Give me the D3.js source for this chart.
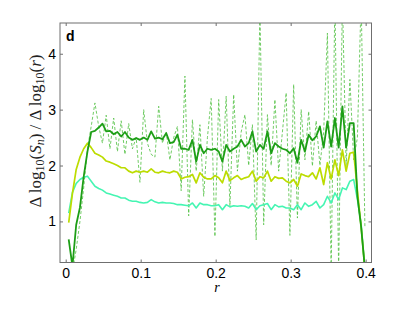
<!DOCTYPE html>
<html>
<head>
<meta charset="utf-8" />
<title>d</title>
<script src="https://d3js.org/d3.v7.min.js"></script>
<style>
  body { margin: 0; background: #ffffff; }
  svg text { font-family: "Liberation Sans", Arial, sans-serif; }
</style>
</head>
<body>
<svg id="viz" width="411" height="310"></svg>
<script>

// r values (x)
var rVals = [0.004,0.009,0.014,0.019,0.024,0.029,0.034,0.039,0.044,0.049,
  0.054,0.059,0.064,0.069,0.074,0.079,0.084,0.089,0.094,0.099,
  0.104,0.109,0.114,0.119,0.124,0.129,0.134,0.139,0.144,0.149,
  0.154,0.159,0.164,0.169,0.174,0.179,0.184,0.189,0.194,0.199,
  0.204,0.209,0.214,0.219,0.224,0.229,0.234,0.239,0.244,0.249,
  0.254,0.259,0.264,0.269,0.274,0.279,0.284,0.289,0.294,0.299,
  0.304,0.309,0.314,0.319,0.324,0.329,0.334,0.339,0.344,0.349,
  0.354,0.359,0.364,0.369,0.374,0.379,0.384,0.389,0.394,0.399];

// noisy dashed series
var lightDash = [0.0,0.1,0.5,1.0,1.6,2.3,2.7,3.12,2.7,2.4,
  2.9,2.3,2.85,2.25,2.8,2.2,2.75,2.3,2.5,1.7,
  3.0,2.4,2.2,2.15,3.06,2.4,2.6,2.1,2.5,2.7,
  1.55,3.6,1.1,2.82,1.9,2.73,1.45,2.5,3.2,0.73,
  3.18,1.9,3.24,1.27,3.27,1.9,2.6,2.91,2.0,2.73,
  0.67,4.8,0.94,2.91,2.0,3.18,1.9,2.6,3.3,0.75,
  3.45,1.06,3.0,2.1,2.97,1.99,2.8,2.0,2.6,4.37,
  0.1,5.0,0.1,5.0,2.0,3.54,2.1,2.5,5.0,0.9];

var darkGreen = [0.68,0.2,0.94,1.25,1.8,2.25,2.6,2.62,2.68,2.75,
  2.61,2.62,2.56,2.6,2.52,2.6,2.5,2.46,2.49,2.46,
  2.5,2.46,2.61,2.48,2.5,2.47,2.58,2.4,2.42,2.55,
  2.3,2.3,2.28,2.46,2.07,2.37,2.22,2.3,2.28,2.3,
  2.25,2.07,2.37,2.25,2.3,2.34,2.46,2.34,2.4,2.61,
  2.25,2.37,2.3,2.61,2.22,2.4,2.34,2.3,2.28,2.22,
  2.31,2.05,2.46,2.25,2.55,2.45,2.52,2.7,2.32,2.79,
  2.34,2.85,2.32,3.06,2.32,2.76,2.76,1.45,0.9,0.15];

var yellowGreen = [0.98,1.5,1.93,2.15,2.3,2.4,2.32,2.22,2.19,2.15,
  2.08,2.06,2.03,2.0,1.96,1.96,1.9,1.87,1.9,1.88,
  1.9,1.88,1.94,1.88,1.87,1.9,1.88,1.87,1.9,1.88,
  1.76,1.79,1.8,1.84,1.69,1.87,1.79,1.76,1.76,1.82,
  1.78,1.69,1.9,1.73,1.78,1.82,1.75,1.78,1.8,1.9,
  1.72,1.8,1.78,1.9,1.72,1.8,1.77,1.78,1.72,1.69,
  1.75,1.63,1.85,1.82,1.8,1.87,1.76,1.96,1.66,2.05,
  1.76,2.1,1.82,2.28,1.9,2.22,2.24,1.55,0.9,0.15];

var aqua = [1.15,1.52,1.68,1.75,1.79,1.81,1.72,1.63,1.59,1.56,
  1.51,1.49,1.47,1.45,1.42,1.42,1.38,1.36,1.36,1.34,
  1.33,1.34,1.39,1.35,1.33,1.34,1.33,1.33,1.32,1.3,
  1.3,1.29,1.28,1.33,1.24,1.33,1.3,1.3,1.28,1.28,
  1.3,1.21,1.3,1.26,1.28,1.27,1.28,1.27,1.24,1.32,
  1.21,1.28,1.3,1.32,1.21,1.3,1.26,1.27,1.24,1.24,
  1.21,1.3,1.21,1.33,1.27,1.3,1.36,1.24,1.3,1.45,
  1.33,1.51,1.39,1.6,1.57,1.72,1.75,1.4,0.95,0.15];

var xTicks = [0, 0.1, 0.2, 0.3, 0.4];
var yTicks = [1, 2, 3, 4];

var svg = d3.select("#viz");

var plotLeft = 60, plotRight = 371.5, plotTop = 23, plotBottom = 262.5;

var xScale = d3.scaleLinear().domain([-0.0076, 0.4078]).range([plotLeft, plotRight]);
var yScale = d3.scaleLinear().domain([0.265, 4.55]).range([plotBottom, plotTop]);

svg.append("clipPath").attr("id", "plotclip")
  .append("rect")
  .attr("x", plotLeft).attr("y", plotTop)
  .attr("width", plotRight - plotLeft).attr("height", plotBottom - plotTop);

var line = d3.line()
  .x(function(d, i) { return xScale(rVals[i]); })
  .y(function(d) { return yScale(d); });

var plot = svg.append("g").attr("clip-path", "url(#plotclip)");

// dashed noisy line
plot.append("path")
  .attr("d", line(lightDash))
  .attr("fill", "none")
  .attr("stroke", "#4fbf40")
  .attr("stroke-opacity", 0.8)
  .attr("stroke-width", 1)
  .attr("stroke-dasharray", "3,2");

plot.append("path")
  .attr("d", line(aqua))
  .attr("fill", "none")
  .attr("stroke", "#45f5b2")
  .attr("stroke-width", 1.6)
  .attr("stroke-linejoin", "round");

plot.append("path")
  .attr("d", line(yellowGreen))
  .attr("fill", "none")
  .attr("stroke", "#bcdc00")
  .attr("stroke-width", 1.7)
  .attr("stroke-linejoin", "round");

plot.append("path")
  .attr("d", line(darkGreen))
  .attr("fill", "none")
  .attr("stroke", "#1d9e16")
  .attr("stroke-width", 1.8)
  .attr("stroke-linejoin", "round");

// axes (box with inner ticks)
var axisColor = "#6f6f6f";

var xb = svg.append("g").attr("transform", "translate(0," + plotBottom + ")")
  .call(d3.axisBottom(xScale).tickValues(xTicks).tickSizeInner(-3).tickSizeOuter(0)
    .tickPadding(6).tickFormat(function(d) { return d === 0 ? "0" : d3.format(".1f")(d); }));
var xt = svg.append("g").attr("transform", "translate(0," + plotTop + ")")
  .call(d3.axisTop(xScale).tickValues(xTicks).tickSizeInner(-3).tickSizeOuter(0).tickFormat(""));
var yl = svg.append("g").attr("transform", "translate(" + plotLeft + ",0)")
  .call(d3.axisLeft(yScale).tickValues(yTicks).tickSizeInner(-3).tickSizeOuter(0)
    .tickPadding(4).tickFormat(d3.format("d")));
var yr = svg.append("g").attr("transform", "translate(" + plotRight + ",0)")
  .call(d3.axisRight(yScale).tickValues(yTicks).tickSizeInner(-3).tickSizeOuter(0).tickFormat(""));

[xb, xt, yl, yr].forEach(function(g) {
  g.select(".domain").remove();
  g.selectAll(".tick line").attr("stroke", axisColor);
  g.selectAll(".tick text")
    .attr("fill", "#000")
    .style("font-family", "'Liberation Sans', Arial, sans-serif")
    .style("font-size", "14px");
});

svg.append("rect")
  .attr("x", plotLeft).attr("y", plotTop)
  .attr("width", plotRight - plotLeft).attr("height", plotBottom - plotTop)
  .attr("fill", "none")
  .attr("stroke", axisColor)
  .attr("stroke-width", 1);

// panel letter
svg.append("text")
  .attr("x", 66).attr("y", 40.5)
  .style("font-family", "'Liberation Sans', Arial, sans-serif")
  .style("font-weight", "bold")
  .style("font-size", "14px")
  .text("d");

// x label
svg.append("text")
  .attr("x", 217).attr("y", 292)
  .attr("text-anchor", "middle")
  .style("font-family", "'Liberation Serif', 'DejaVu Serif', serif")
  .style("font-style", "italic")
  .style("font-size", "14px")
  .text("r");

// y label
var ylab = svg.append("text")
  .attr("transform", "translate(41,131) rotate(-90)")
  .attr("text-anchor", "middle")
  .style("font-family", "'Liberation Serif', 'DejaVu Serif', serif")
  .style("font-size", "17px")
  .attr("fill", "#222");

function part(txt, opts) {
  opts = opts || {};
  var t = ylab.append("tspan").text(txt);
  if (opts.italic) t.style("font-style", "italic");
  if (opts.size) t.style("font-size", opts.size);
  if (opts.dy) t.attr("dy", opts.dy);
}
part("\u0394 log");
part("10", { size: "12px", dy: 3 });
part("(", { dy: -3 });
part("S", { italic: true });
part("n", { italic: true, size: "12px", dy: 3 });
part(") / \u0394 log", { dy: -3 });
part("10", { size: "12px", dy: 3 });
part("(", { dy: -3 });
part("r", { italic: true });
part(")");

</script>
</body>
</html>
